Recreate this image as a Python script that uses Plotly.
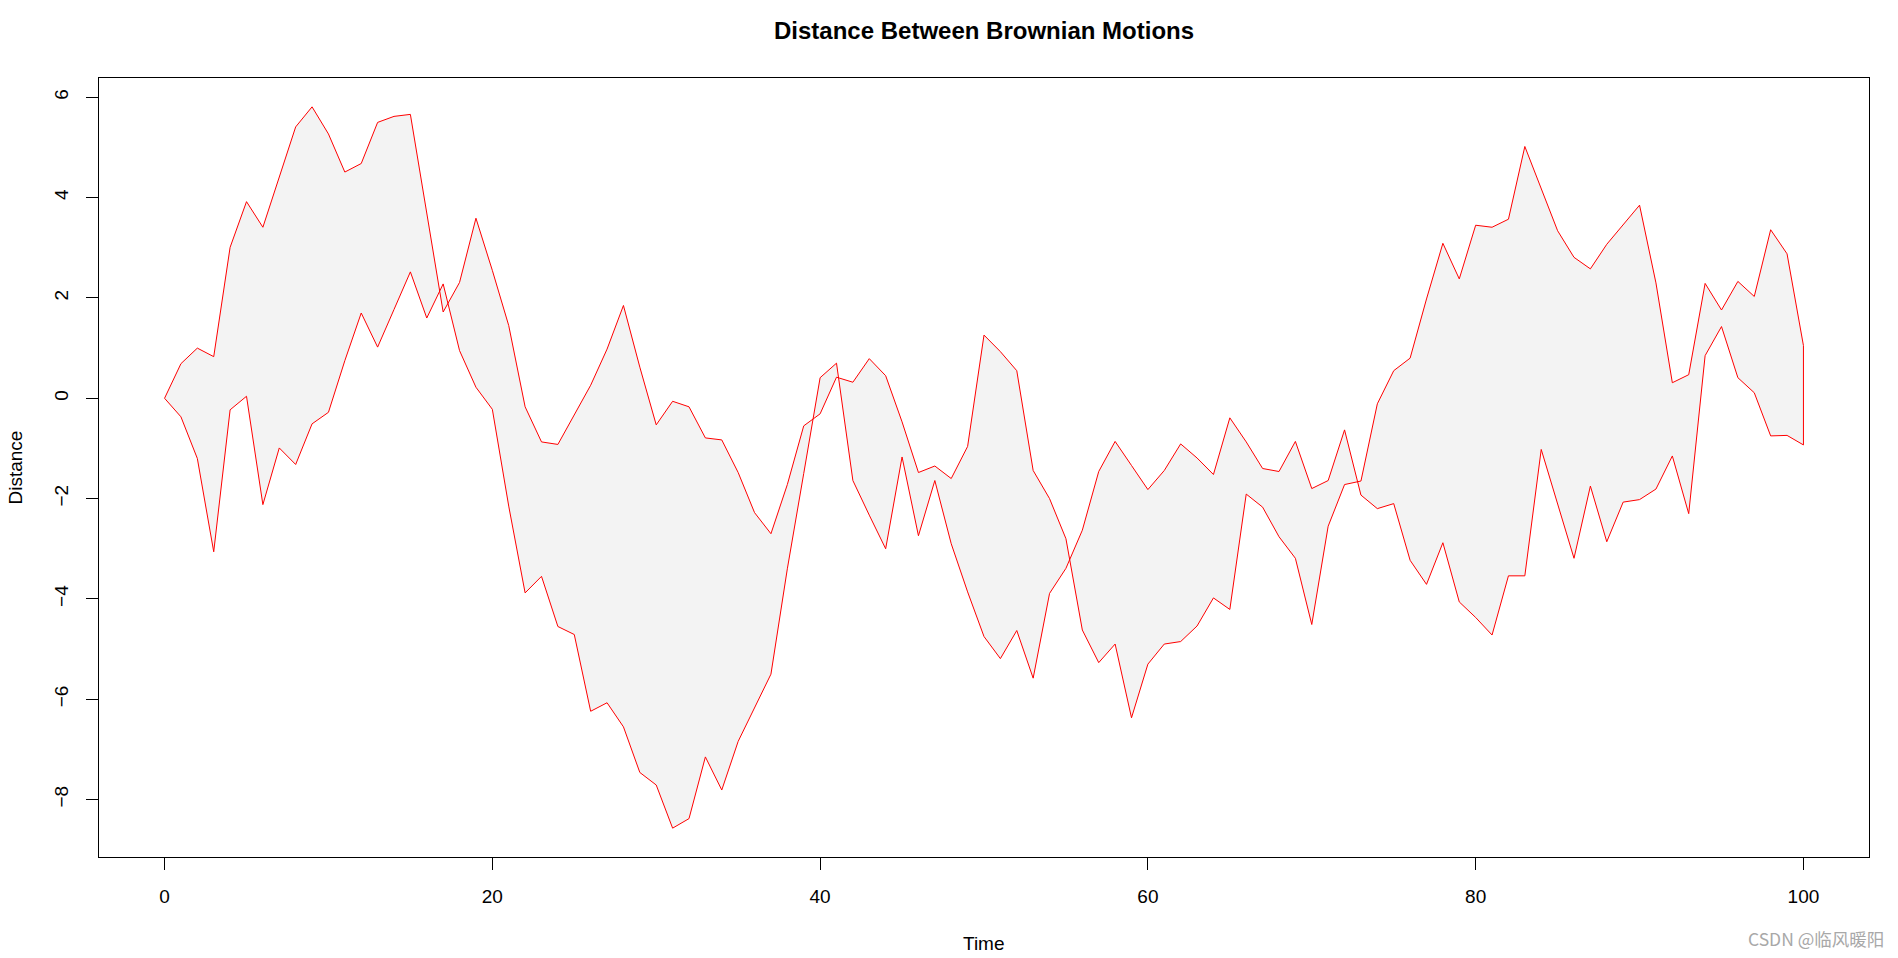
import plotly.graph_objects as go

time = list(range(0, 101))

motion_a = [
    0.00, 0.69, 1.00, 0.83, 3.01, 3.92, 3.41, 4.43, 5.41, 5.81,
    5.27, 4.51, 4.68, 5.50, 5.62, 5.66, 3.71, 1.72, 2.31, 3.59,
    2.55, 1.45, -0.17, -0.87, -0.92, -0.33, 0.26, 0.98, 1.85, 0.62,
    -0.53, -0.06, -0.17, -0.79, -0.83, -1.48, -2.28, -2.70, -1.72, -0.55,
    -0.31, 0.42, 0.32, 0.79, 0.45, -0.47, -1.48, -1.35, -1.60, -0.96,
    1.26, 0.93, 0.55, -1.44, -2.00, -2.80, -4.62, -5.27, -4.90, -6.37,
    -5.30, -4.90, -4.85, -4.54, -3.98, -4.21, -1.91, -2.17, -2.76, -3.19,
    -4.51, -2.55, -1.72, -1.65, -0.11, 0.55, 0.80, 1.98, 3.09, 2.38,
    3.45, 3.41, 3.57, 5.02, 4.20, 3.34, 2.81, 2.58, 3.07, 3.45,
    3.85, 2.30, 0.31, 0.47, 2.29, 1.76, 2.33, 2.03, 3.36, 2.88,
    1.05,
]

motion_b = [
    0.00, -0.37, -1.20, -3.06, -0.23, 0.04, -2.12, -0.99, -1.32, -0.51,
    -0.28, 0.75, 1.70, 1.02, 1.77, 2.52, 1.60, 2.28, 0.95, 0.22,
    -0.22, -2.15, -3.88, -3.55, -4.55, -4.71, -6.24, -6.07, -6.55, -7.46,
    -7.71, -8.57, -8.38, -7.15, -7.81, -6.84, -6.18, -5.50, -3.40, -1.50,
    0.41, 0.70, -1.64, -2.33, -3.00, -1.17, -2.74, -1.64, -2.90, -3.86,
    -4.75, -5.19, -4.63, -5.58, -3.89, -3.39, -2.63, -1.46, -0.86, -1.34,
    -1.82, -1.44, -0.91, -1.19, -1.52, -0.39, -0.87, -1.40, -1.46, -0.86,
    -1.80, -1.64, -0.63, -1.93, -2.20, -2.10, -3.23, -3.71, -2.88, -4.06,
    -4.37, -4.72, -3.54, -3.54, -1.02, -2.10, -3.19, -1.75, -2.86, -2.07,
    -2.02, -1.81, -1.15, -2.30, 0.85, 1.43, 0.41, 0.11, -0.75, -0.74,
    -0.93,
]

x_ticks = [0, 20, 40, 60, 80, 100]
y_ticks = [-8, -6, -4, -2, 0, 2, 4, 6]

FONT = "Liberation Sans, Arial, sans-serif"

poly_x = time + time[::-1]
poly_y = motion_a + motion_b[::-1]

fig = go.Figure()
fig.add_trace(go.Scatter(
    x=poly_x, y=poly_y,
    mode="lines",
    fill="toself",
    fillcolor="#F3F3F3",
    line=dict(color="#FF0000", width=1),
    hoverinfo="skip",
    showlegend=False,
))

lo = min(min(motion_a), min(motion_b))
hi = max(max(motion_a), max(motion_b))
pad = 0.04 * (hi - lo)

L, R, T, B = 99, 29, 78, 101
W, H = 1898, 958
pw, ph = W - L - R, H - T - B

axis_common = dict(
    showgrid=False, zeroline=False,
    showline=True, mirror=True, linecolor="black", linewidth=1,
    ticks="outside", ticklen=12, tickcolor="black", tickwidth=1,
    tickfont=dict(family=FONT, size=19, color="black"),
)

fig.update_layout(
    width=W, height=H,
    paper_bgcolor="white", plot_bgcolor="white",
    margin=dict(l=L, r=R, t=T, b=B),
    xaxis=dict(range=[-4, 104], tickvals=x_ticks, ticklabelstandoff=10, **axis_common),
    yaxis=dict(range=[lo - pad, hi + pad], tickvals=y_ticks, tickangle=-90,
               ticklabelstandoff=10, **axis_common),
    annotations=[
        dict(text="<b>Distance Between Brownian Motions</b>", xref="paper", yref="paper",
             x=0.5, y=(H - B - 30) / ph, xanchor="center", yanchor="middle",
             showarrow=False, font=dict(family=FONT, size=24, color="black")),
        dict(text="Time", xref="paper", yref="paper",
             x=0.5, y=(H - B - 943) / ph, xanchor="center", yanchor="middle",
             showarrow=False, font=dict(family=FONT, size=19, color="black")),
        dict(text="Distance", xref="paper", yref="paper",
             x=(15 - L) / pw, y=0.5, xanchor="center", yanchor="middle", textangle=-90,
             showarrow=False, font=dict(family=FONT, size=19, color="black")),
        dict(text="CSDN @临风暖阳", xref="paper", yref="paper",
             x=(1886 - L) / pw, y=(H - B - 939) / ph, xanchor="right", yanchor="middle",
             showarrow=False, font=dict(family="Noto Sans CJK SC, " + FONT, size=17.5, color="#A8A8A8")),
    ],
)

fig.write_html(
    "out.html",
    config={"displayModeBar": False},
    post_script="document.body.style.margin='0';document.body.style.overflow='hidden';",
)
